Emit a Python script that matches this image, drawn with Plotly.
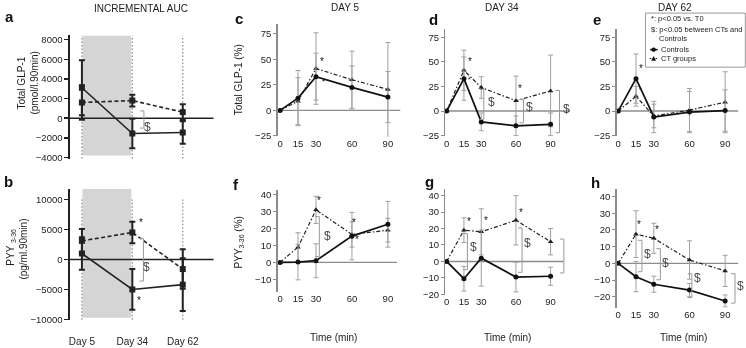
import plotly.graph_objects as go

W, H = 746, 348

# ---------------- data ----------------
days = ["Day 5", "Day 34", "Day 62"]
times = [0, 15, 30, 60, 90]

# Incremental AUC, total GLP-1 (pmol/l.90min)
auc_glp1_controls = [3100, -1550, -1450]
auc_glp1_controls_sd = [2800, 1500, 1150]
auc_glp1_ct = [1600, 1800, 620]
auc_glp1_ct_sd = [1750, 600, 800]

# Incremental AUC, PYY3-36 (pg/ml.90min)
auc_pyy_controls = [1000, -5000, -4200]
auc_pyy_controls_sd = [2700, 3400, 4400]
auc_pyy_ct = [3100, 4500, -1600]
auc_pyy_ct_sd = [2000, 1800, 3300]

# Total GLP-1 (%) time courses
glp1_d5_controls = [0, 12, 33, 22.5, 13]
glp1_d5_controls_sd = [0, 27, 23, 21, 25]
glp1_d5_ct = [0, 9, 41, 30, 20.5]
glp1_d5_ct_sd = [0, 23, 35, 28, 46]

glp1_d34_controls = [0, 33, -11, -15, -13.5]
glp1_d34_controls_sd = [0, 22, 9, 10, 11.5]
glp1_d34_ct = [0, 41.5, 24, 10.5, 20.5]
glp1_d34_ct_sd = [0, 20.5, 11, 25, 36.5]

glp1_d62_controls = [0, 33, -6, -1, 0.5]
glp1_d62_controls_sd = [0, 25, 16, 21, 21]
glp1_d62_ct = [0, 15, -5, 1, 9]
glp1_d62_ct_sd = [0, 10, 12, 22, 31]

# PYY3-36 (%) time courses
pyy_d5_controls = [0, 0.2, 1, 15.5, 22.5]
pyy_d5_controls_sd = [0, 10.5, 10, 14, 13.5]
pyy_d5_ct = [0, 9, 31, 16.5, 19]
pyy_d5_ct_sd = [0, 8.5, 8, 7.5, 7]

pyy_d34_controls = [0, -10.5, 2, -9.5, -9]
pyy_d34_controls_sd = [0, 7.5, 17, 9, 5.5]
pyy_d34_ct = [0, 19, 18, 25, 12]
pyy_d34_ct_sd = [0, 7.5, 14, 15, 8]

pyy_d62_controls = [0, -8, -12.5, -16, -22.5]
pyy_d62_controls_sd = [0, 9, 4.8, 4, 3.6]
pyy_d62_ct = [0, 17.5, 15, 2, -4.5]
pyy_d62_ct_sd = [0, 14, 9, 11.5, 9.3]

FONT = "Liberation Sans, Arial, sans-serif"
TXT = "#222222"
GRAY = "#8c8c8c"
ERRGRAY = "#a0a0a0"
TICKSZ = 9.5


def X(p):
    return p / W


def Y(p):
    return 1 - p / H


# panel geometry (pixel domains) and axis ranges
panels = {
    'a': dict(n=1, xd=(69, 213), yd=(35, 161), xr=(-0.238, 2.614), yr=(-4170, 8430)),
    'b': dict(n=2, xd=(69, 213), yd=(191, 325), xr=(-0.238, 2.614), yr=(-10160, 11800)),
    'c': dict(n=3, xd=(277, 400), yd=(23, 137.5), xr=(-2, 100.5), yr=(-25.2, 85)),
    'd': dict(n=4, xd=(445, 570), yd=(28, 137.5), xr=(-1.04, 107), yr=(-25.5, 84)),
    'e': dict(n=5, xd=(616.5, 740), yd=(28, 137.5), xr=(-1.26, 102.5), yr=(-25.5, 84)),
    'f': dict(n=6, xd=(277, 400), yd=(192, 296), xr=(-2, 100.5), yr=(-17.4, 42.9)),
    'g': dict(n=7, xd=(445, 570), yd=(191, 299), xr=(-1.04, 107), yr=(-20.3, 44.2)),
    'h': dict(n=8, xd=(616.5, 740), yd=(191.5, 312), xr=(-1.26, 102.5), yr=(-26.5, 44.4)),
}


def sfx(k):
    n = panels[k]['n']
    return '' if n == 1 else str(n)


def xu(k):
    """data units per pixel along x"""
    p = panels[k]
    return (p['xr'][1] - p['xr'][0]) / (p['xd'][1] - p['xd'][0])


fig = go.Figure()
layout = dict(width=W, height=H, margin=dict(l=0, r=0, t=0, b=0), autosize=False,
              paper_bgcolor='white', plot_bgcolor='white', showlegend=False,
              font=dict(family=FONT, size=10, color=TXT))

ytick_sets = {
    'a': [-4000, -2000, 0, 2000, 4000, 6000, 8000],
    'b': [-10000, -5000, 0, 5000, 10000],
    'c': [-25, 0, 25, 50, 75], 'd': [-25, 0, 25, 50, 75], 'e': [-25, 0, 25, 50, 75],
    'f': [-10, 0, 10, 20, 30, 40], 'g': [-20, -10, 0, 10, 20, 30, 40],
    'h': [-20, -10, 0, 10, 20, 30, 40],
}

for k, p in panels.items():
    s = sfx(k)
    xa = dict(domain=[X(p['xd'][0]), X(p['xd'][1])], range=list(p['xr']), anchor='y' + s,
              showgrid=False, zeroline=False, showline=False, fixedrange=True,
              tickfont=dict(size=TICKSZ, color=TXT))
    ya = dict(domain=[Y(p['yd'][1]), Y(p['yd'][0])], range=list(p['yr']), anchor='x' + s,
              showgrid=False, zeroline=False, showline=True, fixedrange=True,
              ticks='outside', tickvals=ytick_sets[k], tickformat='d',
              tickfont=dict(size=TICKSZ, color=TXT))
    if k in ('a', 'b'):
        ya.update(linecolor='#222', linewidth=1.5, tickcolor='#222', ticklen=4, tickwidth=1.5)
        if k == 'a':
            xa.update(tickvals=[], ticks='')
        else:
            xa.update(tickvals=list(range(len(days))), ticktext=days, ticks='outside',
                      ticklen=12, tickcolor='rgba(0,0,0,0)', tickfont=dict(size=10, color=TXT))
    else:
        ya.update(linecolor=GRAY, linewidth=1.5, tickcolor=GRAY, ticklen=3, tickwidth=1)
        xa.update(tickvals=times, ticks='')
    layout['xaxis' + s] = xa
    layout['yaxis' + s] = ya

shapes = []
annotations = []

# ---- panels a and b (AUC) ----
for k, ctrl, ctrl_sd, ct, ct_sd, rect_bottom, dot_top in [
        ('a', auc_glp1_controls, auc_glp1_controls_sd, auc_glp1_ct, auc_glp1_ct_sd, -3800, 8430),
        ('b', auc_pyy_controls, auc_pyy_controls_sd, auc_pyy_ct, auc_pyy_ct_sd, -9700, 10000)]:
    s = sfx(k)
    p = panels[k]
    idx = list(range(len(days)))
    shapes.append(dict(type='rect', xref='x' + s, yref='y' + s, x0=0.01, x1=0.98,
                       y0=rect_bottom, y1=p['yr'][1], fillcolor='#d5d5d5', line=dict(width=0),
                       layer='below'))
    for i in idx:
        shapes.append(dict(type='line', xref='x' + s, yref='y' + s, x0=i, x1=i,
                           y0=p['yr'][0] + (p['yr'][1] - p['yr'][0]) * 0.005, y1=dot_top,
                           line=dict(color='#888', width=1.2, dash='1.5px,2px'), layer='below'))
    shapes.append(dict(type='line', xref='x' + s, yref='y' + s, x0=p['xr'][0], x1=p['xr'][1],
                       y0=0, y1=0, line=dict(color='#222', width=1.5), layer='below'))
    fig.add_trace(go.Scatter(x=idx, y=ct, mode='lines+markers', xaxis='x' + s, yaxis='y' + s,
                             line=dict(color='#222', width=1.6, dash='4px,2.5px'),
                             marker=dict(symbol='square', size=6, color='#222'),
                             error_y=dict(type='data', array=ct_sd, color='#222', thickness=2, width=3),
                             cliponaxis=False))
    fig.add_trace(go.Scatter(x=idx, y=ctrl, mode='lines+markers', xaxis='x' + s, yaxis='y' + s,
                             line=dict(color='#222', width=1.6),
                             marker=dict(symbol='square', size=6, color='#222'),
                             error_y=dict(type='data', array=ctrl_sd, color='#222', thickness=2, width=3),
                             cliponaxis=False))

# ---- time-course panels ----
tc = [
    ('c', glp1_d5_controls, glp1_d5_controls_sd, glp1_d5_ct, glp1_d5_ct_sd, 100.5),
    ('d', glp1_d34_controls, glp1_d34_controls_sd, glp1_d34_ct, glp1_d34_ct_sd, 107),
    ('e', glp1_d62_controls, glp1_d62_controls_sd, glp1_d62_ct, glp1_d62_ct_sd, 101),
    ('f', pyy_d5_controls, pyy_d5_controls_sd, pyy_d5_ct, pyy_d5_ct_sd, 97.5),
    ('g', pyy_d34_controls, pyy_d34_controls_sd, pyy_d34_ct, pyy_d34_ct_sd, 101),
    ('h', pyy_d62_controls, pyy_d62_controls_sd, pyy_d62_ct, pyy_d62_ct_sd, 101),
]
for k, ctrl, ctrl_sd, ct, ct_sd, zend in tc:
    s = sfx(k)
    p = panels[k]
    shapes.append(dict(type='line', xref='x' + s, yref='y' + s, x0=p['xr'][0], x1=zend,
                       y0=0, y1=0, line=dict(color=GRAY, width=1.4), layer='below'))
    fig.add_trace(go.Scatter(x=times, y=ct, mode='lines+markers', xaxis='x' + s, yaxis='y' + s,
                             line=dict(color='#222', width=1.2, dash='4px,2px,1.5px,2px'),
                             marker=dict(symbol='triangle-up', size=5, color='#222'),
                             error_y=dict(type='data', array=ct_sd, color=ERRGRAY, thickness=1, width=2.5),
                             cliponaxis=False))
    fig.add_trace(go.Scatter(x=times, y=ctrl, mode='lines+markers', xaxis='x' + s, yaxis='y' + s,
                             line=dict(color='#111', width=1.7),
                             marker=dict(symbol='circle', size=5, color='#111'),
                             error_y=dict(type='data', array=ctrl_sd, color=ERRGRAY, thickness=1, width=2.5),
                             cliponaxis=False))

# ---- significance brackets ($) : (panel, x, y_top, y_bottom, $x, $y) ----
brackets = [
    ('a', 1.23, 750, -1000, 1.30, -850),
    ('b', 1.22, 3500, -3600, 1.28, -1200),
    ('f', 32.8, 27, 3.5, 39.5, 15.5),
    ('d', 32.2, 22, -8.5, 38.5, 9),
    ('d', 66.6, 12, -12, 71.5, 4.5),
    ('d', 97.7, 21, -22, 104, 2.5),
    ('g', 18, 17, -5, 23, 9),
    ('g', 65.3, 20.4, -6.6, 70, 11),
    ('g', 101.5, 13.6, -7, 107.6, 6.6),
    ('h', 20, 13.8, -5, 24.6, 5.8),
    ('h', 35.5, 8.8, -9.8, 40, 0.3),
    ('h', 62, -6.2, -20.5, 66.5, -8.8),
    ('h', 98.3, -6.2, -23.8, 102.5, -13.8),
]
for k, bx, yt, yb, sx, sy in brackets:
    s = sfx(k)
    d = 4 * xu(k)
    shapes.append(dict(type='path', xref='x' + s, yref='y' + s,
                       path=f"M {bx - d},{yt} L {bx},{yt} L {bx},{yb} L {bx - d},{yb}",
                       line=dict(color='#999', width=1)))
    annotations.append(dict(xref='x' + s, yref='y' + s, x=sx, y=sy, text='&#36;', showarrow=False,
                            textangle=0.01, font=dict(size=12, color='#4a4a4a', family=FONT)))

# ---- asterisks : (panel, x, y, size) ----
stars = [
    ('b', 1.17, 6200, 10), ('b', 1.13, -6900, 10),
    ('c', 35, 48, 10), ('c', 36, 28, 8),
    ('f', 32.5, 36.5, 10), ('f', 62, 23.8, 10), ('f', 64.5, 13.3, 10),
    ('d', 20, 50, 10), ('d', 20, 32, 7), ('d', 63.8, 22.7, 10),
    ('g', 19.2, 24.3, 10), ('g', 33.9, 24.9, 10), ('g', 64.4, 29.9, 10),
    ('e', 18.9, 43.7, 10), ('e', 18.9, 21.7, 7),
    ('h', 17.6, 23.4, 10), ('h', 33, 20.4, 10),
]
for k, sx, sy, sz in stars:
    s = sfx(k)
    annotations.append(dict(xref='x' + s, yref='y' + s, x=sx, y=sy, text='*', showarrow=False,
                            textangle=0.01, font=dict(size=sz, color='#111111', family=FONT)))


def ann(px_, py_, text, size=10, color=TXT, angle=0, xanchor='center', bold=False):
    if bold:
        text = '<b>' + text + '</b>'
    annotations.append(dict(xref='paper', yref='paper', x=X(px_), y=Y(py_), text=text,
                            showarrow=False, textangle=angle, xanchor=xanchor, yanchor='middle',
                            font=dict(size=size, color=color, family=FONT)))


# titles
ann(140, 8, 'INCREMENTAL AUC', 10)
ann(344, 7, 'DAY 5', 10)
ann(502, 7, 'DAY 34', 10)
ann(675, 7, 'DAY 62', 10)
# panel letters
for L, (lx, ly) in {'a': (9, 16), 'b': (8, 184), 'c': (238, 18), 'f': (235, 187),
                    'd': (433, 19), 'g': (429, 184), 'e': (597, 19), 'h': (595, 185)}.items():
    ann(lx, ly, L, 15, '#111', bold=True)
# y-axis titles
ann(21, 83, 'Total GLP-1', 10, angle=-90)
ann(34, 83, '(pmol/l.90min)', 10, angle=-90)
ann(10, 250, 'PYY <sub>3-36</sub>', 10, angle=-90)
ann(23, 252, '(pg/ml.90min)', 10, angle=-90)
ann(238, 80, 'Total GLP-1 (%)', 10, angle=-90)
ann(238, 246, 'PYY<sub>3-36</sub> (%)', 10, angle=-90)
# x-axis titles
ann(333, 342, 'Time (min)', 10)
ann(507, 342, 'Time (min)', 10)
ann(683, 342, 'Time (min)', 10)

# ---- legend (panel e) ----
LG = 7.5
shapes.append(dict(type='rect', xref='paper', yref='paper', x0=X(645.3), x1=X(745.3),
                   y0=Y(67.3), y1=Y(12.3), line=dict(color='#999', width=1), fillcolor='white'))
ann(649, 17.5, '*: p<0.05 vs. T0', LG, '#222', xanchor='left')
ann(649, 28.5, '&#36;: p<0.05 between CTs and', LG, '#222', xanchor='left')
ann(657, 38, 'Controls', LG, '#222', xanchor='left')
ann(659, 49.5, 'Controls', LG, '#222', xanchor='left')
ann(659, 58.5, 'CT groups', LG, '#222', xanchor='left')
shapes.append(dict(type='line', xref='paper', yref='paper', x0=X(650), x1=X(657.5),
                   y0=Y(49.5), y1=Y(49.5), line=dict(color='#111', width=1.5)))
shapes.append(dict(type='circle', xref='paper', yref='paper', x0=X(651.5), x1=X(655.5),
                   y0=Y(51.5), y1=Y(47.5), fillcolor='#111', line=dict(color='#111', width=0.5)))
shapes.append(dict(type='line', xref='paper', yref='paper', x0=X(649.5), x1=X(658),
                   y0=Y(58.5), y1=Y(58.5), line=dict(color='#111', width=1.1, dash='1.5px,1.5px')))
shapes.append(dict(type='path', xref='paper', yref='paper',
                   path=f"M {X(651.5)},{Y(60.5)} L {X(655.5)},{Y(60.5)} L {X(653.5)},{Y(56.5)} Z",
                   fillcolor='#111', line=dict(color='#111', width=0.5)))

layout['shapes'] = shapes
layout['annotations'] = annotations
fig.update_layout(**layout)

fig.write_html("out.html", config={'displayModeBar': False, 'staticPlot': True},
               post_script=("document.body.style.margin='0px';"
                            "document.body.style.overflow='hidden';"
                            "document.querySelectorAll('.main-svg').forEach(function(s){"
                            "s.style.willChange='transform';});"))
